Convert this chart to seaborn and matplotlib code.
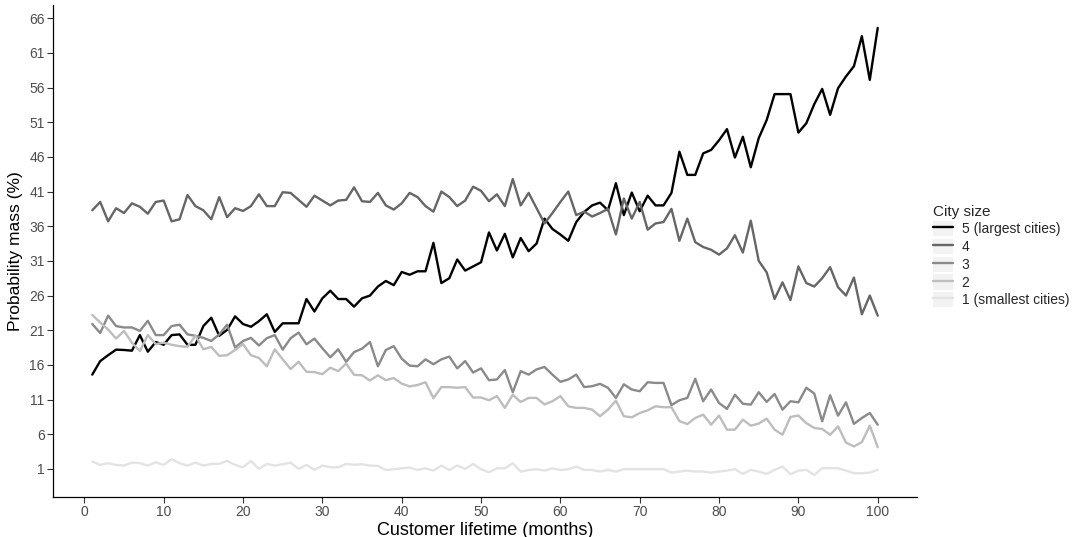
import numpy as np
import pandas as pd
import matplotlib
matplotlib.use("Agg")
import matplotlib.pyplot as plt
from matplotlib.patches import Rectangle
from matplotlib.lines import Line2D
from matplotlib.legend_handler import HandlerTuple
import seaborn as sns

# Customer lifetime in months
months = np.arange(1, 101)

# Probability mass (%) per city size class, months 1..100
size5 = [14.6, 16.55, 17.4, 18.2, 18.15, 18.05, 20.3, 17.9, 19.3, 18.9,
         20.3, 20.4, 18.9, 18.9, 21.6, 22.8, 20.2, 21.05, 23.0, 21.9,
         21.5, 22.3, 23.3, 20.75, 22.0, 22.0,
         22.0, 25.5, 23.7, 25.6, 26.7, 25.5, 25.5, 24.4, 25.6, 26.0,
         27.3, 28.1, 27.5, 29.4, 29.0, 29.5, 29.5, 33.6, 27.8, 28.5,
         31.2, 29.6, 30.2, 30.8, 35.1, 32.5,
         34.9, 31.5, 34.3, 32.4, 33.5, 37.1, 35.6, 34.8, 33.9, 36.6,
         38.05, 39.0, 39.4, 38.3, 42.2, 37.6, 40.85, 38.15, 40.4, 39.0,
         39.0, 40.8, 46.75, 43.4, 43.4,
         46.5, 47.0, 48.4, 50.0, 45.9, 48.9, 44.5, 48.7, 51.3, 55.05,
         55.05, 55.05, 49.5, 50.85, 53.6, 55.8, 52.06, 55.9, 57.6, 59.07,
         63.4, 57.1, 64.6]

size4 = [38.3, 39.5, 36.7, 38.6, 37.9, 39.3, 38.8, 37.8, 39.5, 39.7,
         36.7, 37.0, 40.5, 38.9, 38.3, 37.0, 40.2, 37.3, 38.6, 38.2,
         38.9, 40.6, 38.9, 38.9, 40.9, 40.8,
         39.8, 38.8, 40.4, 39.7, 39.0, 39.7, 39.8, 41.6, 39.6, 39.5,
         40.8, 39.0, 38.4, 39.3, 40.8, 40.2, 38.9, 38.1, 41.0, 40.2,
         38.9, 39.7, 41.7, 41.1, 39.6, 40.6,
         38.9, 42.8, 39.0, 40.8, 38.6, 36.4, 37.9, 39.5, 41.0, 37.6,
         38.1, 37.4, 37.9, 38.5, 34.8, 40.0, 37.1, 39.5, 35.5, 36.4,
         36.6, 38.5, 33.9, 37.1, 33.7,
         33.0, 32.6, 31.9, 32.8, 34.7, 32.2, 36.8, 31.0, 29.35, 25.5,
         27.9, 25.35, 30.2, 27.8, 27.3, 28.5, 30.1, 27.2, 26.0, 28.6,
         23.3, 26.0, 23.1]

size3 = [21.9, 20.6, 23.1, 21.6, 21.4, 21.4, 20.9, 22.35, 20.3, 20.3,
         21.6, 21.8, 20.4, 20.2, 19.9, 19.45, 20.4, 21.8, 18.5, 19.45,
         19.9, 18.8, 19.85, 20.3, 18.2, 19.85,
         20.66, 18.97, 19.8, 18.4, 17.1, 18.25, 16.45, 17.85, 18.34, 19.3,
         15.8, 18.15, 18.7, 16.9, 15.9, 15.8, 16.8, 16.1, 16.8, 17.2,
         15.5, 16.55, 14.9, 15.5, 13.8, 13.9,
         15.25, 12.06, 15.1, 14.6, 15.35, 15.7, 14.6, 13.56, 13.9, 14.6,
         12.8, 12.93, 13.27, 12.7, 11.24, 13.2, 12.45, 12.2, 13.5, 13.4,
         13.4, 10.2, 10.9, 11.24, 14.0,
         10.76, 12.45, 10.5, 9.65, 11.7, 10.4, 10.27, 12.06, 10.66, 11.8,
         9.55, 10.76, 10.6, 12.7, 11.87, 7.86, 11.63, 8.68, 10.6, 7.5,
         8.34, 9.06, 7.37]

size2 = [23.2, 22.1, 21.1, 19.8, 20.9, 19.2, 18.0, 20.3, 19.0, 19.2,
         18.9, 18.7, 18.6, 20.2, 18.25, 18.6, 17.3, 17.4, 18.15, 19.0,
         17.4, 17.0, 15.8, 18.25, 16.8, 15.4,
         16.45, 15.0, 14.96, 14.67, 15.6, 15.1, 16.2, 14.57, 14.5, 13.75,
         14.5, 13.8, 14.1, 13.3, 12.9, 13.1, 13.5, 11.2, 12.8, 12.8,
         12.7, 12.8, 11.3, 11.3, 10.9, 11.5,
         9.8, 11.7, 10.66, 11.24, 11.24, 10.3, 10.76, 11.5, 10.03, 9.8,
         9.8, 9.55, 8.6, 9.55, 10.85, 8.6, 8.44, 9.06, 9.45, 10.03,
         9.9, 9.9, 7.9, 7.47, 8.34,
         8.83, 7.38, 8.69, 6.66, 6.66, 8.1, 7.24, 7.53, 8.25, 6.66,
         5.93, 8.5, 8.69, 7.6, 6.9, 6.75, 5.93, 7.14, 4.8, 4.24,
         4.87, 7.24, 4.14]

size1 = [2.06, 1.58, 1.82, 1.58, 1.48, 1.91, 1.82, 1.48, 1.96, 1.58,
         2.4, 1.82, 1.48, 1.91, 1.48, 1.72, 1.72, 2.16, 1.58, 1.24,
         2.16, 1.0, 1.72, 1.48, 1.67, 1.91, 1.0, 1.58, 0.85, 1.48,
         1.24, 1.24, 1.72, 1.58, 1.67, 1.48, 1.43, 0.85, 0.95, 1.09,
         1.19, 0.85, 1.09, 0.76, 1.48, 0.85, 1.48, 1.0, 1.72, 0.95,
         0.51, 1.09,
         1.09, 1.82, 0.61, 0.85, 0.95, 0.76, 1.09, 0.85, 0.95, 1.34,
         0.85, 0.85, 0.61, 0.85, 0.61,
         0.96, 0.96, 0.96, 0.96, 0.96, 0.96, 0.47, 0.62, 0.76, 0.62,
         0.62, 0.47, 0.62, 0.76, 0.96, 0.28, 0.86, 0.62, 0.28, 0.86,
         1.34, 0.23, 0.76, 0.86, 0.13, 1.1, 1.1, 1.1, 0.76, 0.38,
         0.38, 0.47, 0.86]

size_labels = ["5 (largest cities)", "4", "3", "2", "1 (smallest cities)"]
size_colors = ["#000000", "#666666", "#8a8a8a", "#bdbdbd", "#e3e3e3"]
y_ticks = [1, 6, 11, 16, 21, 26, 31, 36, 41, 46, 51, 56, 61, 66]
x_ticks = [0, 10, 20, 30, 40, 50, 60, 70, 80, 90, 100]

series = [size5, size4, size3, size2, size1]
df = pd.concat(
    [pd.DataFrame({"month": months, "mass": vals, "size": lab})
     for vals, lab in zip(series, size_labels)],
    ignore_index=True,
)

sns.set_theme(style="ticks")
plt.rcParams["font.family"] = ["Liberation Sans", "DejaVu Sans"]

fig = plt.figure(figsize=(10.75, 5.37), dpi=100)
ax = fig.add_axes([53 / 1075, 1 - 497 / 537, (917 - 53) / 1075, (497 - 5) / 537])

palette = dict(zip(size_labels, size_colors))
sns.lineplot(data=df, x="month", y="mass", hue="size", hue_order=size_labels,
             palette=palette, linewidth=1.7, legend=False, ax=ax)

ax.set_xlim(-3.95, 104.95)
ax.set_ylim(-3.05, 67.9)
ax.set_xticks(x_ticks)
ax.set_yticks(y_ticks)
ax.set_xlabel("Customer lifetime (months)", fontsize=13, color="black", labelpad=2)
ax.set_ylabel("Probability mass (%)", fontsize=12.5, color="black", labelpad=4)
ax.tick_params(axis="both", labelsize=10, labelcolor="#4d4d4d", color="#333333",
               length=4, width=0.8, pad=2)
for side in ["top", "right"]:
    ax.spines[side].set_visible(False)
for side in ["left", "bottom"]:
    ax.spines[side].set_color("black")
    ax.spines[side].set_linewidth(0.9)

# Legend with grey key backgrounds behind each line sample
handles = []
for col in size_colors:
    bg = Rectangle((0, 0), 1, 1, facecolor="#f2f2f2", edgecolor="none")
    ln = Line2D([], [], color=col, linewidth=1.7)
    handles.append((bg, ln))
leg = fig.legend(handles, size_labels, title="City size",
                 handler_map={tuple: HandlerTuple(ndivide=1, pad=0)},
                 loc="center left", bbox_to_anchor=(933 / 1075, 1 - 256 / 537),
                 frameon=False, fontsize=10, title_fontsize=11,
                 handlelength=1.44, handleheight=1.31, handletextpad=0.62,
                 labelspacing=0.18, borderaxespad=0, borderpad=0,
                 alignment="left")

fig.savefig("out.png", dpi=100)
